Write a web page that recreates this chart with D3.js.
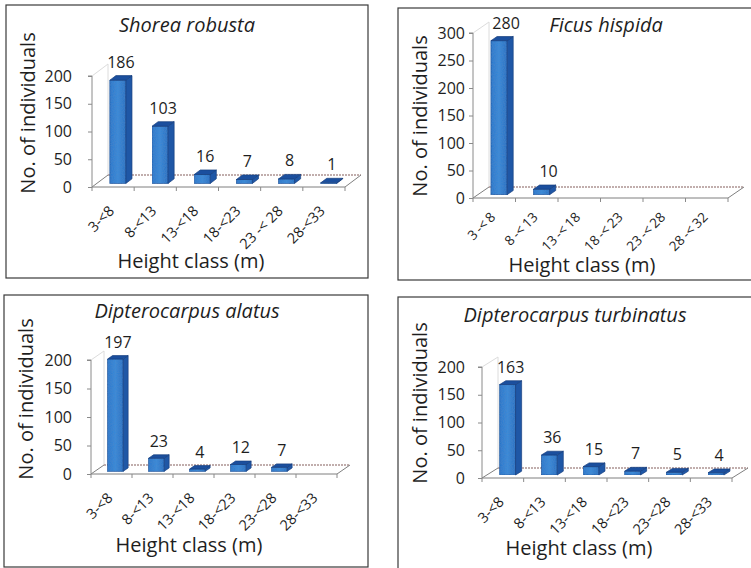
<!DOCTYPE html>
<html>
<head>
<meta charset="utf-8">
<script src="https://cdn.jsdelivr.net/npm/d3@7/dist/d3.min.js"></script>
<style>
  html, body { margin: 0; padding: 0; background: #fff; }
  svg text { font-family: "Open Sans", "Noto Sans", sans-serif; fill: #1e1e1e; }
</style>
</head>
<body>
<svg id="chart" width="751" height="568"></svg>
<script>
// Height-class distributions of four tree species
const shoreaClasses = ["3-<8", "8-<13", "13-<18", "18-<23", "23 -< 28", "28-<33"];
const shoreaCounts  = [186, 103, 16, 7, 8, 1];

const ficusClasses = ["3 -< 8", "8 -< 13", "13 -< 18", "18 -< 23", "23 -< 28", "28 -< 32"];
const ficusCounts  = [280, 10, null, null, null, null];

const alatusClasses = ["3-<8", "8-<13", "13-<18", "18-<23", "23-<28", "28-<33"];
const alatusCounts  = [197, 23, 4, 12, 7, null];

const turbinatusClasses = ["3-<8", "8-<13", "13-<18", "18-<23", "23-<28", "28-<33"];
const turbinatusCounts  = [163, 36, 15, 7, 5, 4];

const ticks200 = [0, 50, 100, 150, 200];
const ticks300 = [0, 50, 100, 150, 200, 250, 300];

const svg = d3.select("#chart");

// pseudo-3D column panel: front plane x0..x1, value axis y0 (0) .. yTop (max)
function panel(cfg) {
  const g = svg.append("g");

  g.append("rect")
    .attr("x", cfg.box[0]).attr("y", cfg.box[1])
    .attr("width", cfg.box[2]).attr("height", cfg.box[3])
    .attr("fill", "none").attr("stroke", "#3a3a3a").attr("stroke-width", 1.2);

  const y = d3.scaleLinear().domain([0, cfg.max]).range([cfg.y0, cfg.yTop]);
  const x = d3.scaleBand().domain(cfg.classes).range([cfg.x0, cfg.x1]);
  const [dx, dy] = cfg.depth;

  // left wall outline
  g.append("path")
    .attr("d", `M${cfg.x0},${cfg.yTop} L${cfg.x0 + dx},${cfg.yTop + dy} L${cfg.x0 + dx},${cfg.y0 + dy}`)
    .attr("fill", "none").attr("stroke", "#dcdcdc").attr("stroke-width", 1);

  // floor
  const fy = cfg.y0;
  g.append("path")
    .attr("d", `M${cfg.x0 + dx},${fy + dy} L${cfg.x1 + dx},${fy + dy}`)
    .attr("stroke", "#ad9492").attr("stroke-width", 1.4)
    .attr("stroke-dasharray", "2,1").attr("fill", "none");
  g.append("path")
    .attr("d", `M${cfg.x0 + dx},${fy + dy} L${cfg.x0},${fy} L${cfg.x1},${fy} L${cfg.x1 + dx},${fy + dy}`)
    .attr("stroke", "#7f7f7f").attr("stroke-width", 1).attr("fill", "none");

  // category boundary ticks under the floor
  const bounds = d3.range(cfg.classes.length + 1).map(i => cfg.x0 + i * x.step());
  g.selectAll(".xt").data(bounds).join("line")
    .attr("x1", d => d).attr("x2", d => d)
    .attr("y1", fy).attr("y2", fy + 4)
    .attr("stroke", "#8a8a8a").attr("stroke-width", 1);

  // value axis
  const ay = g.append("g")
    .attr("transform", `translate(${cfg.x0},0)`)
    .call(d3.axisLeft(y).tickValues(cfg.ticks).tickSize(4).tickPadding(cfg.pad));
  ay.select(".domain").attr("stroke", "#8a8a8a").attr("d", `M-4,${cfg.yTop}H0V${cfg.y0}`);
  ay.selectAll(".tick line").attr("stroke", "#8a8a8a");
  ay.selectAll(".tick text")
    .style("font-family", '"Open Sans", sans-serif')
    .style("font-size", "16px").attr("fill", "#1e1e1e");

  // bars
  const ds = 0.3, de = 0.68, bw = x.step() * 0.38;
  const data = cfg.classes.map((c, i) => ({ c, v: cfg.counts[i] })).filter(d => d.v !== null);
  const ox = ds * dx, oy = ds * dy, sx = (de - ds) * dx, sy = (de - ds) * dy;

  const bars = g.selectAll(".bar").data(data).join("g");
  bars.each(function (d) {
    const b = d3.select(this);
    const xl = x(d.c) + x.bandwidth() / 2 - bw / 2 + ox;
    const xr = xl + bw;
    const yt = y(d.v) + oy;
    const yb = y(0) + oy;
    // front
    b.append("rect").attr("x", xl).attr("y", yt)
      .attr("width", bw).attr("height", Math.max(0, yb - yt))
      .attr("fill", "url(#frontGrad)").attr("filter", "url(#grain)")
      .attr("stroke", "#1d4f98").attr("stroke-width", 0.7);
    // side
    b.append("path")
      .attr("d", `M${xr},${yt} L${xr + sx},${yt + sy} L${xr + sx},${yb + sy} L${xr},${yb} Z`)
      .attr("fill", "#1f57a6").attr("stroke", "#173f7e").attr("stroke-width", 0.7);
    // top
    b.append("path")
      .attr("d", `M${xl},${yt} L${xr},${yt} L${xr + sx},${yt + sy} L${xl + sx},${yt + sy} Z`)
      .attr("fill", "#1b4f9e").attr("stroke", "#173f7e").attr("stroke-width", 0.7);
    // value label
    g.append("text")
      .attr("x", (xl + xr + sx) / 2 + (cfg.labelShift || 0))
      .attr("y", yt + sy - 8)
      .attr("text-anchor", "middle")
      .style("font-size", "16px")
      .text(d.v);
  });

  // category labels
  g.selectAll(".xl").data(cfg.classes).join("text")
    .attr("transform", d => `translate(${x(d) + x.bandwidth() / 2 + 2},${fy + (cfg.catDy || 25)}) rotate(-45)`)
    .attr("text-anchor", "end")
    .style("font-size", (cfg.catSize || 14.5) + "px")
    .style("word-spacing", cfg.catSize ? "-1px" : null)
    .text(d => d);

  // titles
  g.append("text")
    .attr("x", cfg.title[1]).attr("y", cfg.title[2])
    .attr("text-anchor", "middle")
    .style("font-size", "20px").style("font-style", "italic")
    .text(cfg.title[0]);
  g.append("text")
    .attr("transform", `translate(${cfg.ylab[0]},${cfg.ylab[1]}) rotate(-90)`)
    .attr("text-anchor", "middle")
    .style("font-size", "20px")
    .text("No. of individuals");
  g.append("text")
    .attr("x", cfg.xlab[0]).attr("y", cfg.xlab[1])
    .attr("text-anchor", "middle")
    .style("font-size", "20px")
    .text("Height class (m)");
}

const defs = svg.append("defs");
const grad = defs.append("linearGradient").attr("id", "frontGrad")
  .attr("x1", 0).attr("x2", 1).attr("y1", 0).attr("y2", 0);
grad.append("stop").attr("offset", 0).attr("stop-color", "#2c78cc");
grad.append("stop").attr("offset", 0.5).attr("stop-color", "#3b8ad9");
grad.append("stop").attr("offset", 1).attr("stop-color", "#2a70c2");

// speckled print texture on the column faces
const grain = defs.append("filter").attr("id", "grain")
  .attr("x", 0).attr("y", 0).attr("width", 1).attr("height", 1);
grain.append("feTurbulence").attr("type", "fractalNoise")
  .attr("baseFrequency", 0.9).attr("numOctaves", 1).attr("seed", 3).attr("result", "noise");
grain.append("feColorMatrix").attr("in", "noise").attr("type", "matrix")
  .attr("values", "0 0 0 0 0.08  0 0 0 0 0.25  0 0 0 0 0.55  0 0 0 0.9 -0.25")
  .attr("result", "speck");
grain.append("feComposite").attr("in", "speck").attr("in2", "SourceGraphic")
  .attr("operator", "in").attr("result", "speckIn");
const merge = grain.append("feMerge");
merge.append("feMergeNode").attr("in", "SourceGraphic");
merge.append("feMergeNode").attr("in", "speckIn");

panel({
  box: [6, 5, 362, 273],
  classes: shoreaClasses, counts: shoreaCounts, max: 200, ticks: ticks200,
  x0: 92, x1: 345, y0: 187, yTop: 76, depth: [16, -12], pad: 16,
  title: ["Shorea robusta", 187, 32], ylab: [35, 113], xlab: [191, 268]
});
panel({
  box: [398, 8, 360, 272],
  classes: ficusClasses, counts: ficusCounts, max: 300, ticks: ticks300,
  x0: 473, x1: 728, y0: 198, yTop: 33, depth: [16, -11], pad: 4, labelShift: 4,
  catSize: 13.5, catDy: 20,
  title: ["Ficus hispida", 606, 32], ylab: [427, 116], xlab: [582, 272]
});
panel({
  box: [4, 295, 364, 272],
  classes: alatusClasses, counts: alatusCounts, max: 200, ticks: ticks200,
  x0: 91, x1: 337, y0: 474, yTop: 360, depth: [13, -9], pad: 15,
  title: ["Dipterocarpus alatus", 187, 318], ylab: [33, 399], xlab: [189, 552]
});
panel({
  box: [398, 297, 360, 280],
  classes: turbinatusClasses, counts: turbinatusCounts, max: 200, ticks: ticks200,
  x0: 482, x1: 732, y0: 478, yTop: 367, depth: [16, -10], pad: 13,
  title: ["Dipterocarpus turbinatus", 575, 322], ylab: [427, 403], xlab: [579, 555]
});
</script>
</body>
</html>
